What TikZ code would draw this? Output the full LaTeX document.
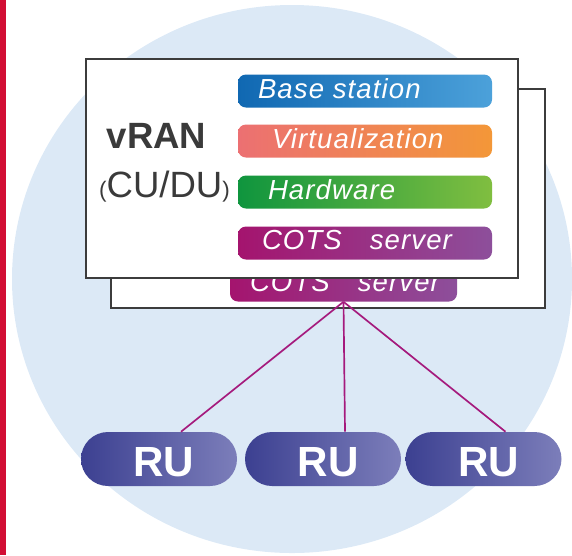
\documentclass[tikz,border=0pt]{standalone}
\usepackage{fontspec}
\setmainfont{Liberation Sans}
\newfontfamily\pillfont{Liberation Sans}[LetterSpace=4.0]
\usepackage{tikz}
\usetikzlibrary{calc}

\definecolor{bgblue}{RGB}{220,233,246}
\definecolor{barred}{RGB}{210,14,52}
\definecolor{boxgray}{RGB}{60,60,60}
\definecolor{textgray}{RGB}{58,58,58}
\definecolor{bsL}{RGB}{16,104,178}
\definecolor{bsR}{RGB}{76,161,218}
\definecolor{virtL}{RGB}{236,112,114}
\definecolor{virtR}{RGB}{243,151,56}
\definecolor{hwL}{RGB}{15,149,62}
\definecolor{hwR}{RGB}{128,190,64}
\definecolor{cotsL}{RGB}{164,20,110}
\definecolor{cotsR}{RGB}{141,79,155}
\definecolor{ruL}{RGB}{60,64,145}
\definecolor{ruR}{RGB}{124,126,186}
\definecolor{linkmag}{RGB}{165,26,125}

\begin{document}
\begin{tikzpicture}[
		pill/.style 2 args={rounded corners=0.2cm, left color=#1, right color=#2, minimum width=6.35cm, minimum height=0.825cm, inner sep=0pt},
		pilltext/.style={anchor=mid west, inner sep=0pt, text=white, font=\pillfont\itshape\fontsize{19.6}{23}\selectfont},
		server/.style={draw=boxgray, line width=1.4pt, fill=white, minimum height=5.475cm, inner sep=0pt},
		ru/.style={rounded corners=0.675cm, left color=ruL, right color=ruR, minimum width=3.9cm, minimum height=1.35cm, inner sep=0pt, text height=25pt, text depth=0pt, text=white, font=\bfseries\fontsize{30}{34}\selectfont}]
			\useasboundingbox (0,0) rectangle (14.3,-13.875);
			\fill[barred] (0,0) rectangle (0.15,-13.875);
			\fill[bgblue] (7.3,-6.975) ellipse [x radius=7.0, y radius=6.85];

			% back server
			\node[server, minimum width=10.85cm] (back) at (8.2,-4.9625) {};
			\node[pill={cotsL}{cotsR}, minimum width=5.675cm] (cots2) at ($(back)+(0.3875,-2.1625)$) {};
			\node[pilltext] (c2) at ($(cots2.west)+(0.5,-0.08)$) {COTS\hspace{0.7cm}server};

			% front server
			\node[server, minimum width=10.8cm] (front) at (7.55,-4.2125) {};
			\node[pill={bsL}{bsR}] (bs) at ($(front)+(1.575,1.9375)$) {};
			\node[pill={virtL}{virtR}] (virt) at ($(front)+(1.575,0.6875)$) {};
			\node[pill={hwL}{hwR}] (hw) at ($(front)+(1.575,-0.5875)$) {};
			\node[pill={cotsL}{cotsR}] (cots) at ($(front)+(1.575,-1.8625)$) {};

			\node[pilltext] (t1) at ($(bs.west)+(0.5,-0.1)$) {Base station};
			\node[pilltext] (t2) at ($(virt.west)+(0.85,-0.1)$) {Virtualization};
			\node[pilltext] (t3) at ($(hw.west)+(0.75,-0.1)$) {Hardware};
			\node[pilltext] (t4) at ($(cots.west)+(0.6,-0.08)$) {COTS\hspace{0.7cm}server};

			\node[anchor=base, inner sep=0pt, text=textgray, font=\bfseries\fontsize{26}{30}\selectfont] (vran) at ($(front)+(-3.6375,0.5125)$) {vRAN};
			\node[anchor=base, inner sep=0pt, text=textgray, font=\fontsize{26}{30}\selectfont] (cudu) at ($(front)+(-3.4375,-0.7125)$) {{\fontsize{16}{20}\selectfont(}CU/DU{\fontsize{16}{20}\selectfont)}};

			% radio units
			\node[ru] (ru1) at (3.975,-11.475) {\hspace{0.25cm}RU};
			\node[ru] (ru2) at (8.075,-11.475) {\hspace{0.25cm}RU};
			\node[ru] (ru3) at (12.0875,-11.475) {\hspace{0.25cm}RU};

			\coordinate (r1) at ($(ru1.north)+(0.55,0)$);
			\coordinate (r2) at ($(ru2.north)+(0.55,0)$);
			\coordinate (r3) at ($(ru3.north)+(0.55,0)$);

			\draw[linkmag, line width=1.2pt] (cots2.south) -- (r1);
			\draw[linkmag, line width=1.2pt] (cots2.south) -- (r2);
			\draw[linkmag, line width=1.2pt] (cots2.south) -- (r3);

		\end{tikzpicture}
\end{document}
